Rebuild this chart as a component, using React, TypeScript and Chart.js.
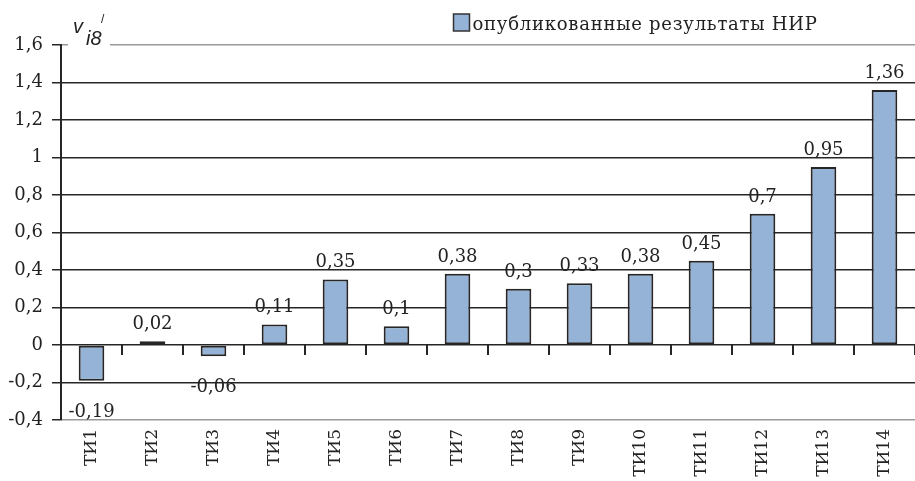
import React, { useEffect, useRef } from "react";
import { Chart, registerables } from "chart.js";

Chart.register(...registerables);

const categories = ["ТИ1", "ТИ2", "ТИ3", "ТИ4", "ТИ5", "ТИ6", "ТИ7", "ТИ8", "ТИ9", "ТИ10", "ТИ11", "ТИ12", "ТИ13", "ТИ14"];
const values = [-0.19, 0.02, -0.06, 0.11, 0.35, 0.1, 0.38, 0.3, 0.33, 0.38, 0.45, 0.7, 0.95, 1.36];
const seriesLabel = "опубликованные результаты НИР";
const yMin = -0.4;
const yMax = 1.6;
const yStep = 0.2;

const SERIF = '"DejaVu Serif", serif';
const BAR_FILL = "#95B3D7";
const DARK = "#262626";

const fmt = (v: number) => String(Number(v.toFixed(2))).replace(".", ",");

const valueLabels = {
  id: "valueLabels",
  afterDatasetsDraw(chart: any) {
    const ctx = chart.ctx;
    const meta = chart.getDatasetMeta(0);
    ctx.save();
    ctx.font = `18px ${SERIF}`;
    ctx.fillStyle = "#222";
    ctx.textAlign = "center";
    ctx.textBaseline = "alphabetic";
    meta.data.forEach((el: any, i: number) => {
      const v = values[i];
      const y = v >= 0 ? el.y - 12 : el.y + 36;
      ctx.fillText(fmt(v), el.x, y);
    });
    ctx.restore();
  },
};

const axisTitle = {
  id: "axisTitle",
  afterDraw(chart: any) {
    const ctx = chart.ctx;
    const left = chart.chartArea.left;
    const top = chart.scales.y.getPixelForValue(yMax);
    ctx.save();
    ctx.fillStyle = "#fff";
    ctx.fillRect(left + 7, top - 3, 42, 6);
    ctx.fillStyle = "#222";
    ctx.textAlign = "left";
    ctx.textBaseline = "alphabetic";
    ctx.font = 'italic 20px "Liberation Sans", sans-serif';
    ctx.fillText("v", left + 12, top - 12);
    ctx.fillText("i8", left + 25, top);
    ctx.font = '12px "Liberation Sans", sans-serif';
    ctx.fillText("/", left + 40, top - 22);
    ctx.restore();
  },
};

const customLegend = {
  id: "customLegend",
  afterDraw(chart: any) {
    const ctx = chart.ctx;
    const x = chart.width / 2 - 4;
    ctx.save();
    ctx.fillStyle = BAR_FILL;
    ctx.strokeStyle = "#333";
    ctx.lineWidth = 1.5;
    ctx.fillRect(x, 14, 16, 17);
    ctx.strokeRect(x, 14, 16, 17);
    ctx.fillStyle = "#222";
    ctx.font = `18px ${SERIF}`;
    (ctx as any).letterSpacing = "0.75px";
    ctx.textAlign = "left";
    ctx.textBaseline = "alphabetic";
    ctx.fillText(seriesLabel, x + 19, 30);
    ctx.restore();
  },
};

export default function App() {
  const ref = useRef<HTMLCanvasElement | null>(null);

  useEffect(() => {
    if (!ref.current) return;
    const chart = new Chart(ref.current, {
      type: "bar",
      data: {
        labels: categories,
        datasets: [
          {
            label: seriesLabel,
            data: values,
            backgroundColor: BAR_FILL,
            borderColor: DARK,
            borderWidth: 2,
            borderSkipped: false,
            categoryPercentage: 1,
            barPercentage: 0.42,
          },
        ],
      },
      options: {
        responsive: false,
        animation: false,
        layout: { padding: { top: 45, right: 0, left: 0, bottom: 0 } },
        plugins: {
          legend: { display: false },
          tooltip: { enabled: false },
        },
        scales: {
          x: {
            position: "bottom",
            grid: { display: false },
            border: { display: false },
            ticks: {
              minRotation: 90,
              maxRotation: 90,
              padding: 1,
              color: "#222",
              font: { family: SERIF, size: 17 },
            },
            afterFit(scale: any) {
              scale.height = 61;
            },
          },
          x2: {
            type: "category",
            labels: categories,
            position: { y: 0 },
            offset: true,
            grid: {
              display: true,
              drawOnChartArea: false,
              drawTicks: true,
              tickLength: 10,
              color: DARK,
              lineWidth: 2,
              offset: true,
            },
            border: { display: false },
            ticks: { display: false },
          },
          y: {
            min: yMin,
            max: yMax,
            ticks: {
              stepSize: yStep,
              padding: 9,
              color: "#222",
              font: { family: SERIF, size: 18 },
              callback: (v: any) => fmt(Number(v)),
            },
            grid: {
              color: (c: any) => {
                const v = c.tick ? c.tick.value : 0;
                return Math.abs(v - yMax) < 1e-6 || Math.abs(v - yMin) < 1e-6 ? "#9a9a9a" : DARK;
              },
              lineWidth: 1.5,
              tickLength: 9,
              tickColor: DARK,
            },
            border: { display: true, color: DARK, width: 2 },
            afterFit(scale: any) {
              scale.width = 61;
            },
          },
        },
      },
      plugins: [valueLabels, axisTitle, customLegend],
    });
    return () => chart.destroy();
  }, []);

  return (
    <div style={{ position: "absolute", left: 0, top: 0, width: 915, height: 481, background: "#fff" }}>
      <canvas ref={ref} width={915} height={481} />
    </div>
  );
}
